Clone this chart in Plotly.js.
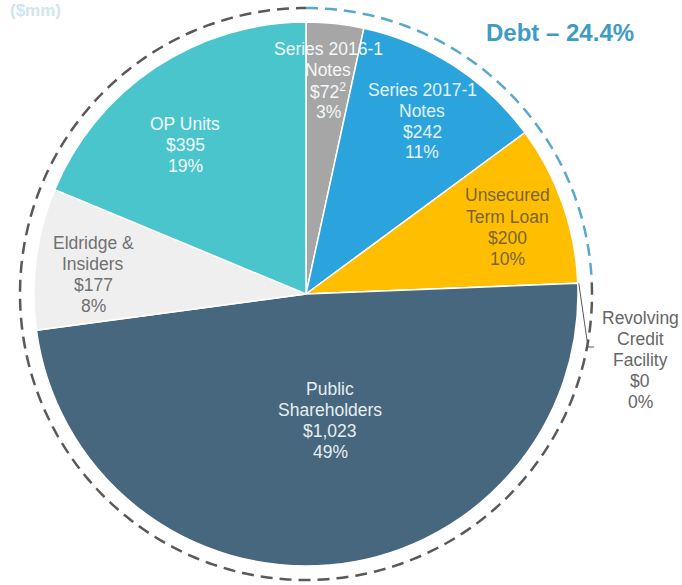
<!DOCTYPE html>
<html>
<head>
<meta charset="utf-8">
<script src="https://cdn.plot.ly/plotly-3.0.1.min.js"></script>
<style>
  html, body { margin: 0; padding: 0; background: #ffffff; }
  #chart { width: 682px; height: 585px; }
</style>
</head>
<body>
<div id="chart"></div>
<script>
// ---------- data ----------
const categories = ['Series 2016-1 Notes', 'Series 2017-1 Notes', 'Unsecured Term Loan',
  'Revolving Credit Facility', 'Public Shareholders', 'Eldridge & Insiders', 'OP Units'];
const labelLines = [['Series 2016-1', 'Notes'], ['Series 2017-1', 'Notes'], ['Unsecured', 'Term Loan'],
  ['Revolving', 'Credit', 'Facility'], ['Public', 'Shareholders'], ['Eldridge &', 'Insiders'], ['OP Units']];
const values = [72, 242, 200, 0, 1023, 177, 395];
const footnotes = ['2', '', '', '', '', '', ''];
const pctLabels = [3, 11, 10, 0, 49, 8, 19];
const debtCount = 4; // first four categories are debt
const unitsLabel = '($mm)';

// ---------- styles / layout ----------
const W = 682, H = 585;
const cx = 306, cy = 294, R = 272, RD = 286;
const colors = ['#a6a6a6', '#2ba4de', '#ffbf00', '#ffbf00', '#47677e', '#efefef', '#4bc5cc'];
const textColors = ['#f4f8f8', '#e4f3fb', '#7a6530', '#666666', '#e6eef2', '#707070', '#f2fbfb'];
// label block centres in pixels
const labelPos = [[328, 80], [422, 121], [507, 227], [640, 360], [330, 420], [93, 274], [185, 145]];
const LINE = 21, FS = 17.5;
const FONT = 'Arial, "Liberation Sans", sans-serif';

const total = values.reduce((a, b) => a + b, 0);
const debtShare = values.slice(0, debtCount).reduce((a, b) => a + b, 0) / total;

const toPX = (px) => px / W;
const toPY = (py) => 1 - py / H;

function arcPath(a0, a1, r) {
  let pts = [];
  for (let a = a0; a < a1; a += 1) pts.push(a);
  pts.push(a1);
  return pts.map((a, i) => {
    const rad = a * Math.PI / 180;
    const x = cx + r * Math.sin(rad), y = cy - r * Math.cos(rad);
    return (i === 0 ? 'M' : 'L') + toPX(x).toFixed(5) + ',' + toPY(y).toFixed(5);
  }).join(' ');
}

const debtEnd = 360 * debtShare;
const revAngle = 360 * values.slice(0, 3).reduce((a, b) => a + b, 0) / total * Math.PI / 180;
const rs = [cx + (R + 1) * Math.sin(revAngle), cy - (R + 1) * Math.cos(revAngle)];

const trace = {
  type: 'pie',
  labels: categories,
  values: values,
  sort: false,
  direction: 'clockwise',
  rotation: 0,
  textinfo: 'none',
  hoverinfo: 'label+value+percent',
  marker: { colors: colors, line: { color: '#ffffff', width: 1.5 } },
  domain: { x: [toPX(cx - R), toPX(cx + R)], y: [toPY(cy + R), toPY(cy - R)] },
  showlegend: false
};

const annotations = [];
categories.forEach((c, i) => {
  const lines = labelLines[i].concat([
    '$' + values[i].toLocaleString('en-US') + (footnotes[i] ? '<sup>' + footnotes[i] + '</sup>' : ''),
    pctLabels[i] + '%'
  ]);
  const n = lines.length;
  lines.forEach((t, k) => {
    annotations.push({
      xref: 'paper', yref: 'paper',
      x: toPX(labelPos[i][0]), y: toPY(labelPos[i][1] + (k - (n - 1) / 2) * LINE),
      xanchor: 'center', yanchor: 'middle', align: 'center',
      showarrow: false, text: t,
      font: { family: FONT, size: FS, color: textColors[i] }
    });
  });
});
annotations.push({
  xref: 'paper', yref: 'paper', x: toPX(560), y: toPY(32),
  xanchor: 'center', yanchor: 'middle', showarrow: false,
  text: 'Debt – ' + (debtShare * 100).toFixed(1) + '%',
  font: { family: FONT, size: 24, color: '#3d9cc3', weight: 'bold' }
});
annotations.push({
  xref: 'paper', yref: 'paper', x: toPX(35), y: toPY(10),
  xanchor: 'center', yanchor: 'middle', showarrow: false,
  text: unitsLabel,
  font: { family: FONT, size: 17, color: '#cfe5ef', weight: 'bold' }
});

const shapes = [
  { type: 'path', xref: 'paper', yref: 'paper', path: arcPath(debtEnd, 360, RD),
    line: { color: '#595959', width: 2.5, dash: '12px,7px' } },
  { type: 'path', xref: 'paper', yref: 'paper', path: arcPath(0, debtEnd, RD),
    line: { color: '#5aa8cc', width: 2.5, dash: '12px,7px' } },
  { type: 'path', xref: 'paper', yref: 'paper',
    path: 'M' + toPX(rs[0]) + ',' + toPY(rs[1]) + ' L' + toPX(588) + ',' + toPY(347) + ' L' + toPX(594) + ',' + toPY(347),
    line: { color: '#595959', width: 1 } }
];

const layout = {
  width: W, height: H,
  margin: { l: 0, r: 0, t: 0, b: 0 },
  paper_bgcolor: '#ffffff',
  plot_bgcolor: '#ffffff',
  showlegend: false,
  annotations: annotations,
  shapes: shapes,
  font: { family: FONT }
};

Plotly.newPlot('chart', [trace], layout, { displayModeBar: false, staticPlot: true });
</script>
</body>
</html>
